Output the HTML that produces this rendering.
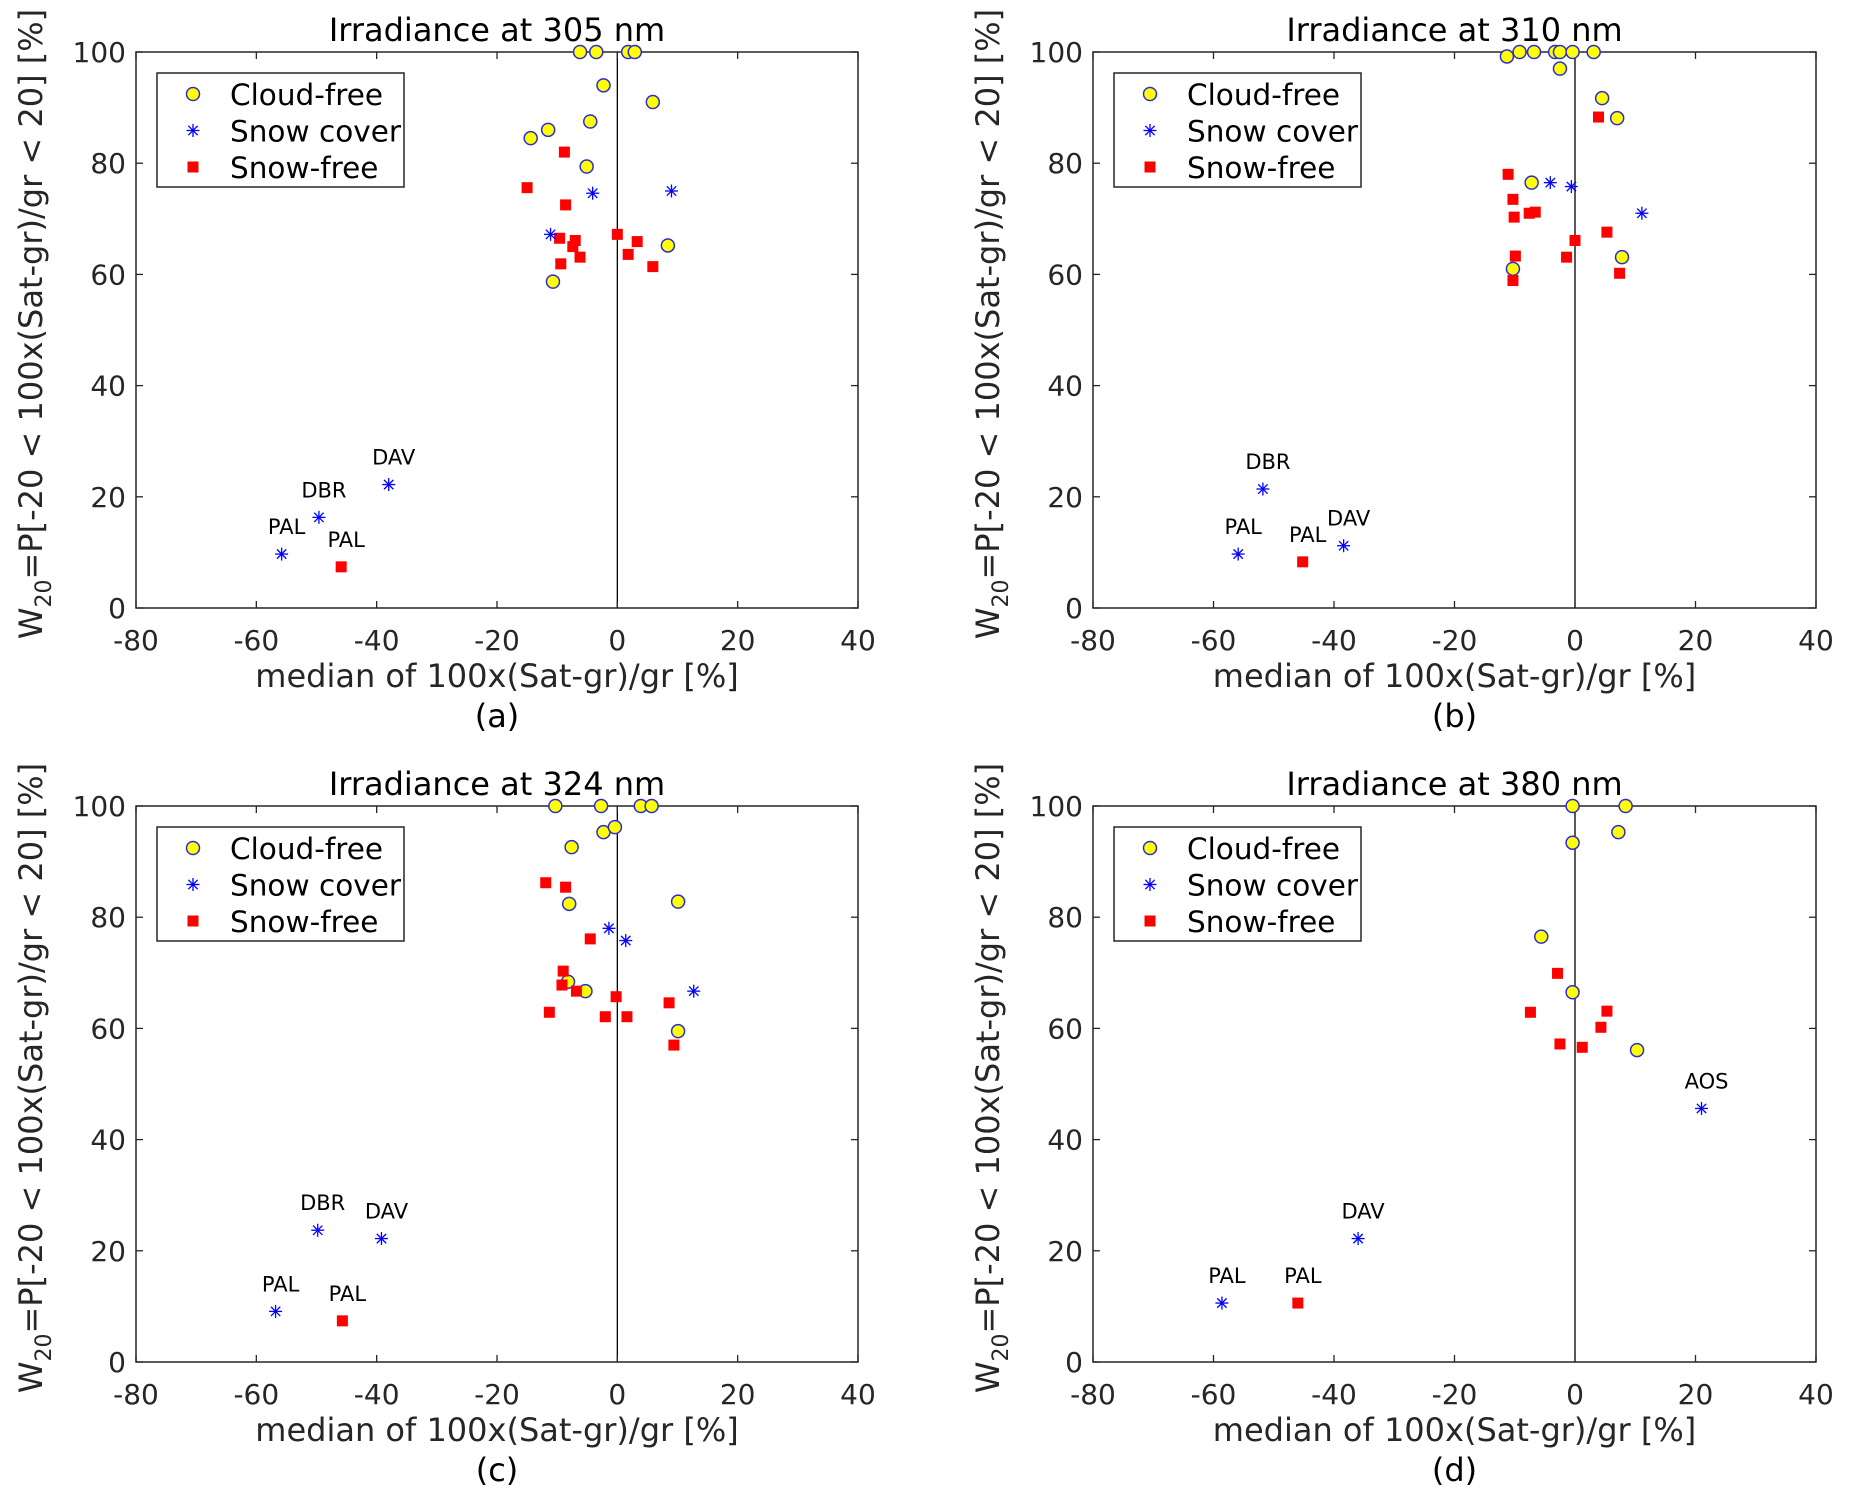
<!DOCTYPE html>
<html><head><meta charset="utf-8"><title>W20 vs median</title>
<style>
html,body{margin:0;padding:0;background:#fff;}
svg{display:block;font-family:"DejaVu Sans","Liberation Sans",sans-serif;}
</style></head>
<body>
<svg id="fig" width="1850" height="1502" viewBox="0 0 1850 1502" xmlns="http://www.w3.org/2000/svg"></svg>
<script>
// ---- data (x = median %, y = W20 %) ----
const xTicks = [-80,-60,-40,-20,0,20,40];
const yTicks = [0,20,40,60,80,100];
const titles = ["Irradiance at 305 nm","Irradiance at 310 nm","Irradiance at 324 nm","Irradiance at 380 nm"];
const letters = ["(a)","(b)","(c)","(d)"];

const cloudX_a = [-6.2,-3.5,1.8,2.9,-2.3,5.9,-4.5,-11.5,-14.4,-5.1,8.4,-10.7];
const cloudY_a = [100,100,100,100,94,91,87.5,86,84.5,79.4,65.2,58.7];
const snowX_a = [-4.1,9,-11.1,-38,-49.6,-55.8];
const snowY_a = [74.6,75,67.2,22.2,16.3,9.7];
const snowL_a = ["","","","DAV","DBR","PAL"];
const freeX_a = [-15,-8.8,-8.6,-9.6,-7,-7.4,-9.4,-6.2,0,1.8,3.3,5.9,-45.9];
const freeY_a = [75.6,82,72.5,66.5,66.1,65,61.9,63.1,67.2,63.6,65.9,61.4,7.4];
const freeL_a = ["","","","","","","","","","","","","PAL"];

const cloudX_b = [-11.3,-9.2,-6.8,-3.3,-2.5,-0.4,3.1,-2.5,4.5,7,-7.2,-10.3,7.8];
const cloudY_b = [99.2,100,100,100,100,100,100,97,91.7,88.1,76.5,61,63.1];
const snowX_b = [-4.1,-0.6,11.1,-51.8,-55.9,-38.4];
const snowY_b = [76.5,75.8,71,21.4,9.7,11.2];
const snowL_b = ["","","","DBR","PAL","DAV"];
const freeX_b = [3.9,-11.1,-10.3,-10.1,-7.6,-6.6,0,5.3,-9.9,-1.4,-10.3,7.4,-45.2];
const freeY_b = [88.3,78,73.5,70.3,71,71.2,66.1,67.6,63.3,63.1,58.9,60.2,8.3];
const freeL_b = ["","","","","","","","","","","","","PAL"];

const cloudX_c = [-10.3,-2.7,3.9,5.7,-2.3,-0.4,-7.6,-8,10.1,-8.2,-5.3,10.1];
const cloudY_c = [100,100,100,100,95.3,96.2,92.6,82.4,82.8,68.4,66.7,59.5];
const snowX_c = [-1.4,1.4,12.7,-49.8,-39.2,-56.8];
const snowY_c = [78,75.8,66.7,23.7,22.2,9.1];
const snowL_c = ["","","","DBR","DAV","PAL"];
const freeX_c = [-11.9,-8.6,-4.5,-9,-9.2,-6.8,-0.2,8.6,-11.3,-2,1.6,9.4,-45.7];
const freeY_c = [86.2,85.4,76.1,70.3,67.8,66.7,65.7,64.6,62.9,62.1,62.1,57,7.4];
const freeL_c = ["","","","","","","","","","","","","PAL"];

const cloudX_d = [-0.4,8.4,7.2,-0.4,-5.6,-0.4,10.3];
const cloudY_d = [100,100,95.3,93.4,76.5,66.5,56.1];
const snowX_d = [21,-36,-58.6];
const snowY_d = [45.6,22.2,10.6];
const snowL_d = ["AOS","DAV","PAL"];
const freeX_d = [-2.9,-7.4,5.3,4.3,-2.5,1.2,-46];
const freeY_d = [69.9,62.9,63.1,60.2,57.2,56.6,10.6];
const freeL_d = ["","","","","","","PAL"];

const panelsData = [
  {cx:cloudX_a,cy:cloudY_a,sx:snowX_a,sy:snowY_a,sl:snowL_a,fx:freeX_a,fy:freeY_a,fl:freeL_a},
  {cx:cloudX_b,cy:cloudY_b,sx:snowX_b,sy:snowY_b,sl:snowL_b,fx:freeX_b,fy:freeY_b,fl:freeL_b},
  {cx:cloudX_c,cy:cloudY_c,sx:snowX_c,sy:snowY_c,sl:snowL_c,fx:freeX_c,fy:freeY_c,fl:freeL_c},
  {cx:cloudX_d,cy:cloudY_d,sx:snowX_d,sy:snowY_d,sl:snowL_d,fx:freeX_d,fy:freeY_d,fl:freeL_d}
];

// ---- layout ----
const boxes = [
  {L:136,R:858,T:52,B:608},
  {L:1093,R:1816,T:52,B:608},
  {L:136,R:858,T:806,B:1362},
  {L:1093,R:1816,T:806,B:1362}
];
const NS = "http://www.w3.org/2000/svg";
const svg = document.getElementById('fig');
function mk(tag, attrs, parent, text){
  const e = document.createElementNS(NS, tag);
  for (const k in attrs) e.setAttribute(k, attrs[k]);
  if (text !== undefined) e.textContent = text;
  (parent||svg).appendChild(e);
  return e;
}
function drawCircle(g,x,y){
  const c = mk('circle',{cx:x,cy:y,r:6.5,fill:'#ffff00',stroke:'#2b2bd6','stroke-width':1.5},g);
  
  
}
function drawStar(g,x,y){
  const s = mk('g',{stroke:'#0000ff','stroke-width':1.3},g);
  
  
  const r = 6.5, d = r*0.72;
  mk('line',{x1:x-r,y1:y,x2:x+r,y2:y},s);
  mk('line',{x1:x,y1:y-r,x2:x,y2:y+r},s);
  mk('line',{x1:x-d,y1:y-d,x2:x+d,y2:y+d},s);
  mk('line',{x1:x-d,y1:y+d,x2:x+d,y2:y-d},s);
}
function drawSquare(g,x,y){
  const q = mk('rect',{x:x-5.5,y:y-5.5,width:11,height:11,fill:'#ff0000'},g);
  
  
}

boxes.forEach((b,i)=>{
  const d = panelsData[i];
  const g = mk('g',{});
  
  
  const sx = v => b.L + (v - xTicks[0])/(xTicks[xTicks.length-1]-xTicks[0])*(b.R-b.L);
  const sy = v => b.B - (v - yTicks[0])/(yTicks[yTicks.length-1]-yTicks[0])*(b.B-b.T);

  // title
  const t = mk('text',{x:(b.L+b.R)/2,y:b.T-11,'font-size':32,'text-anchor':'middle',fill:'#000'},g,titles[i]);
  
  

  // zero line
  const z = mk('line',{x1:sx(0),y1:b.T,x2:sx(0),y2:b.B,stroke:'#000','stroke-width':1.3},g);
  
  

  // ticks & labels
  const ax = mk('g',{stroke:'#262626','stroke-width':1.3},g);
  
  
  xTicks.forEach(v=>{
    const x = sx(v);
    mk('line',{x1:x,y1:b.B,x2:x,y2:b.B-7},ax);
    mk('line',{x1:x,y1:b.T,x2:x,y2:b.T+7},ax);
    const tl = mk('text',{x:x,y:b.B+42,'font-size':28,'text-anchor':'middle',fill:'#262626',stroke:'none'},g,String(v));
    
    
  });
  const ay = mk('g',{stroke:'#262626','stroke-width':1.3},g);
  
  
  yTicks.forEach(v=>{
    const y = sy(v);
    mk('line',{x1:b.L,y1:y,x2:b.L+7,y2:y},ay);
    mk('line',{x1:b.R,y1:y,x2:b.R-7,y2:y},ay);
    const tl = mk('text',{x:b.L-10,y:y+10,'font-size':28,'text-anchor':'end',fill:'#262626',stroke:'none'},g,String(v));
    
    
  });

  // axis box
  const fr = mk('rect',{x:b.L,y:b.T,width:b.R-b.L,height:b.B-b.T,fill:'none',stroke:'#262626','stroke-width':1.5},g);
  
  

  // axis labels
  const xl = mk('text',{x:(b.L+b.R)/2,y:b.B+79,'font-size':32,'text-anchor':'middle',fill:'#262626'},g,'median of 100x(Sat-gr)/gr [%]');
  
  
  const lt = mk('text',{x:(b.L+b.R)/2,y:b.B+119,'font-size':32,'text-anchor':'middle',fill:'#000'},g,letters[i]);
  
  
  const cyM = (b.T+b.B)/2 - 6, xL = b.L-94;
  const yl = mk('text',{x:xL,y:cyM,'font-size':32,'text-anchor':'middle',fill:'#262626',transform:'rotate(-90 '+xL+' '+cyM+')'},g);
  
  
  mk('tspan',{},yl,'W');
  mk('tspan',{'font-size':22,dy:9},yl,'20');
  mk('tspan',{dy:-9},yl,'=P[-20 < 100x(Sat-gr)/gr < 20] [%]');

  // data
  const dg = mk('g',{},g);
  
  
  d.cx.forEach((v,k)=>drawCircle(dg,sx(v),sy(d.cy[k])));
  d.fx.forEach((v,k)=>drawSquare(dg,sx(v),sy(d.fy[k])));
  d.sx.forEach((v,k)=>drawStar(dg,sx(v),sy(d.sy[k])));
  const lab = (x,y,s)=>{
    if(!s) return;
    const e = mk('text',{x:sx(x)+5,y:sy(y)-20,'font-size':21,'text-anchor':'middle',fill:'#000'},g,s);
    
    
  };
  d.sx.forEach((v,k)=>lab(v,d.sy[k],d.sl[k]));
  d.fx.forEach((v,k)=>lab(v,d.fy[k],d.fl[k]));

  // legend
  const lg = mk('g',{},g);
  
  
  const lx = b.L+21, ly = b.T+21;
  mk('rect',{x:lx,y:ly,width:247,height:114,fill:'#fff',stroke:'#262626','stroke-width':1.5},lg);
  const names = ['Cloud-free','Snow cover','Snow-free'];
  const fns = [drawCircle,drawStar,drawSquare];
  names.forEach((n,k)=>{
    const yy = ly+21+k*36.5;
    fns[k](lg,lx+36,yy);
    const e = mk('text',{x:lx+73,y:yy+11,'font-size':29.5,fill:'#000'},lg,n);
    
    
  });
});
</script>
</body></html>
